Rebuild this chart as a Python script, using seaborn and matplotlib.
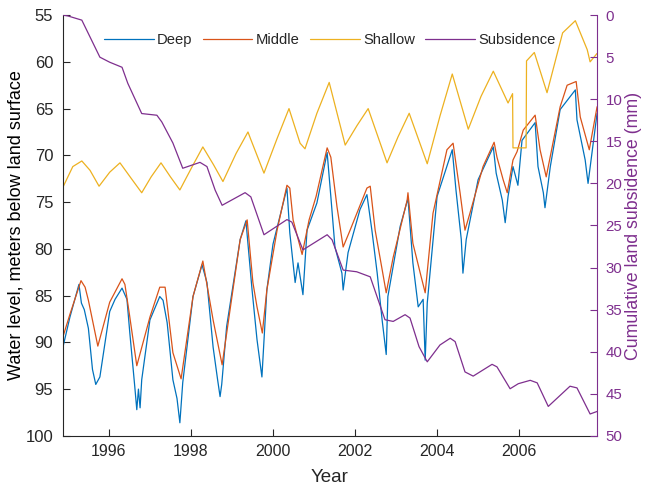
import numpy as np
import pandas as pd
import matplotlib
matplotlib.use("Agg")
import matplotlib.pyplot as plt
import seaborn as sns

# ---------------- data ----------------
deep_year = [1994.88, 1995.05, 1995.27, 1995.33, 1995.40, 1995.50, 1995.60, 1995.68, 1995.78,
             1996.02, 1996.15, 1996.32, 1996.44, 1996.51, 1996.63, 1996.68, 1996.72, 1996.76, 1996.80,
             1997.00, 1997.24, 1997.32, 1997.42, 1997.56, 1997.66, 1997.73, 1997.80,
             1998.05, 1998.27, 1998.39, 1998.54, 1998.65, 1998.71, 1998.75, 1998.87,
             1999.20, 1999.34, 1999.49, 1999.61, 1999.73, 1999.85,
             2000.00, 2000.34, 2000.41, 2000.54, 2000.61, 2000.73, 2000.83,
             2001.07, 2001.32, 2001.41, 2001.51, 2001.68, 2001.71, 2001.83,
             2002.12, 2002.29, 2002.41, 2002.54, 2002.66, 2002.76, 2002.80,
             2003.10, 2003.29, 2003.41, 2003.54, 2003.66, 2003.71, 2003.76,
             2004.00, 2004.37, 2004.46, 2004.59, 2004.63, 2004.71,
             2005.00, 2005.37, 2005.44, 2005.59, 2005.66, 2005.73, 2005.85, 2005.97,
             2006.07, 2006.39, 2006.46, 2006.59, 2006.63, 2006.76,
             2007.00, 2007.37, 2007.41, 2007.61, 2007.68, 2007.90]
deep_level = [90.5, 87.3, 83.8, 85.8, 86.5, 88.5, 92.9, 94.5, 93.7,
              86.7, 85.4, 84.2, 85.4, 89.0, 94.7, 97.2, 95.0, 97.0, 94.0,
              87.6, 85.1, 85.5, 87.9, 94.0, 96.0, 98.6, 94.3,
              85.1, 81.7, 83.6, 90.5, 94.0, 95.8, 94.5, 88.3,
              79.0, 77.0, 84.4, 89.7, 93.7, 84.4,
              79.5, 73.5, 78.3, 83.6, 81.5, 84.9, 78.0,
              75.1, 69.7, 74.4, 79.8, 82.6, 84.4, 80.4,
              75.8, 74.2, 78.0, 82.6, 87.6, 91.3, 85.1,
              77.6, 74.6, 81.5, 86.2, 85.4, 91.9, 85.8,
              74.4, 69.4, 73.7, 79.0, 82.6, 79.0,
              72.6, 69.1, 71.9, 74.8, 77.2, 74.4, 71.2, 73.2,
              68.4, 66.5, 71.2, 74.0, 75.6, 71.2,
              65.1, 63.0, 66.2, 70.5, 73.0, 65.5]

middle_year = [1994.88, 1995.05, 1995.32, 1995.42, 1995.50, 1995.73,
               1996.02, 1996.32, 1996.39, 1996.50, 1996.68,
               1997.00, 1997.24, 1997.37, 1997.56, 1997.76,
               1998.05, 1998.29, 1998.54, 1998.76,
               1999.20, 1999.37, 1999.51, 1999.61, 1999.74, 1999.85,
               2000.10, 2000.34, 2000.41, 2000.49, 2000.71, 2000.88,
               2001.05, 2001.32, 2001.41, 2001.56, 2001.71, 2001.88,
               2002.29, 2002.37, 2002.49, 2002.66, 2002.76, 2002.93,
               2003.27, 2003.29, 2003.41, 2003.59, 2003.71, 2003.90,
               2004.24, 2004.39, 2004.56, 2004.68, 2004.80,
               2005.12, 2005.39, 2005.46, 2005.61, 2005.71, 2005.85, 2005.95,
               2006.10, 2006.39, 2006.51, 2006.66,
               2007.00, 2007.17, 2007.39, 2007.49, 2007.71, 2007.90]
middle_level = [89.4, 87.0, 83.4, 84.1, 85.5, 90.4,
                85.7, 83.2, 83.8, 87.0, 92.5,
                87.3, 84.1, 84.1, 91.1, 93.9,
                85.1, 81.3, 87.6, 92.4,
                79.0, 76.9, 83.6, 86.2, 89.0, 84.4,
                78.0, 73.2, 73.5, 76.9, 80.6, 76.9,
                74.4, 69.2, 70.2, 75.5, 79.8, 78.0,
                73.5, 73.3, 78.0, 82.2, 84.7, 80.9,
                74.8, 74.0, 79.4, 82.6, 84.7, 76.2,
                69.4, 68.7, 74.0, 78.0, 76.2,
                71.2, 68.6, 70.2, 72.6, 74.0, 70.5, 69.6,
                67.3, 65.7, 69.4, 72.3,
                64.8, 62.5, 62.1, 65.9, 69.4, 64.8]

shallow_year = [1994.88, 1995.12, 1995.34, 1995.54, 1995.76, 1996.02, 1996.27, 1996.55, 1996.80,
                1997.03, 1997.27, 1997.50, 1997.73, 1998.03, 1998.29, 1998.55, 1998.78,
                1999.10, 1999.39, 1999.45, 1999.78, 2000.10, 2000.39, 2000.66, 2000.78,
                2001.07, 2001.37, 2001.76, 2002.05, 2002.32, 2002.78, 2003.05, 2003.32,
                2003.76, 2004.07, 2004.37, 2004.76, 2005.07, 2005.37, 2005.73, 2005.84,
                2005.85, 2006.17, 2006.18, 2006.37, 2006.68, 2007.06, 2007.37, 2007.66,
                2007.73, 2007.90]
shallow_level = [73.4, 71.2, 70.6, 71.6, 73.3, 71.8, 70.8, 72.5, 74.0,
                 72.3, 70.8, 72.3, 73.7, 71.2, 69.1, 71.0, 72.8,
                 69.8, 67.5, 68.2, 71.9, 68.2, 65.0, 68.7, 69.3,
                 65.5, 62.2, 68.9, 66.8, 65.0, 70.8, 68.0, 65.5,
                 70.9, 65.8, 61.3, 67.2, 63.7, 61.0, 64.4, 63.4,
                 69.2, 69.2, 59.9, 59.0, 63.3, 56.9, 55.6, 58.7,
                 60.0, 59.1]

subs_year = [1994.88, 1995.00, 1995.34, 1995.61, 1995.78, 1996.02, 1996.32, 1996.46, 1996.80,
             1997.17, 1997.29, 1997.56, 1997.80, 1998.22, 1998.39, 1998.59, 1998.76,
             1999.32, 1999.46, 1999.78, 2000.34, 2000.46, 2000.73, 2001.32, 2001.44,
             2001.71, 2002.04, 2002.37, 2002.73, 2002.93, 2003.22, 2003.34, 2003.56,
             2003.76, 2004.07, 2004.32, 2004.44, 2004.68, 2004.88, 2005.34, 2005.46,
             2005.78, 2005.98, 2006.27, 2006.44, 2006.71, 2007.24, 2007.41, 2007.73,
             2007.90]
subs_mm = [0.0, 0.1, 0.6, 3.3, 5.0, 5.6, 6.2, 8.1, 11.7,
           11.9, 12.7, 15.2, 18.2, 17.5, 18.0, 20.8, 22.6,
           21.1, 21.6, 26.1, 24.3, 24.6, 27.9, 26.1, 26.7,
           30.3, 30.5, 31.1, 36.2, 36.4, 35.6, 36.0, 39.4,
           41.2, 39.2, 38.4, 38.8, 42.4, 42.9, 41.5, 41.8,
           44.4, 43.8, 43.4, 43.7, 46.5, 44.1, 44.3, 47.4,
           47.1]

series_names = ["Deep", "Middle", "Shallow", "Subsidence"]
series_colors = ["#0072BD", "#D95319", "#EDB120", "#7E2F8E"]

# ---------------- plotting ----------------
sns.set_style("white")
plt.rcParams["font.family"] = ["Liberation Sans", "DejaVu Sans"]
plt.rcParams["axes.linewidth"] = 0.8

fig = plt.figure(figsize=(6.49, 4.87), dpi=100)
ax = fig.add_axes([0.097, 0.105, 0.823, 0.864])
ax2 = ax.twinx()

df_deep = pd.DataFrame({"Year": deep_year, "Level": deep_level})
df_mid = pd.DataFrame({"Year": middle_year, "Level": middle_level})
df_sh = pd.DataFrame({"Year": shallow_year, "Level": shallow_level})
df_sub = pd.DataFrame({"Year": subs_year, "mm": subs_mm})

lw = 0.9
sns.lineplot(data=df_deep, x="Year", y="Level", ax=ax, color=series_colors[0], lw=lw,
             sort=False, estimator=None, label=series_names[0], legend=False)
sns.lineplot(data=df_mid, x="Year", y="Level", ax=ax, color=series_colors[1], lw=lw,
             sort=False, estimator=None, label=series_names[1], legend=False)
sns.lineplot(data=df_sh, x="Year", y="Level", ax=ax, color=series_colors[2], lw=lw,
             sort=False, estimator=None, label=series_names[2], legend=False)
sns.lineplot(data=df_sub, x="Year", y="mm", ax=ax2, color=series_colors[3], lw=lw,
             sort=False, estimator=None, label=series_names[3], legend=False)

ax.set_xlim(1994.88, 2007.9)
ax.set_ylim(100, 55)
ax2.set_ylim(50, 0)
ax.set_xticks([1996, 1998, 2000, 2002, 2004, 2006])
ax.set_yticks(np.arange(55, 101, 5))
ax2.set_yticks(np.arange(0, 51, 5))

dark = "#262626"
purple = series_colors[3]
ax.set_xlabel("Year", fontsize=13.5, color=dark, labelpad=7)
ax.set_ylabel("Water level, meters below land surface", fontsize=13, color="black", labelpad=1)
ax2.set_ylabel("Cumulative land subsidence (mm)", fontsize=12.8, color=purple, labelpad=2)

ax.tick_params(axis="x", direction="in", length=5, width=0.8, labelsize=11.5,
               colors=dark, bottom=True, pad=6)
ax.tick_params(axis="y", direction="in", length=5, width=0.8, labelsize=12,
               colors=dark, left=True, pad=7)
ax2.tick_params(axis="y", direction="in", length=5, width=0.8, labelsize=10.8,
                colors=purple, right=True, pad=6)

for a in (ax, ax2):
    a.spines["top"].set_visible(False)
ax.spines["right"].set_visible(False)
ax.spines["left"].set_color(dark)
ax.spines["bottom"].set_color(dark)
ax2.spines["left"].set_visible(False)
ax2.spines["bottom"].set_visible(False)
ax2.spines["right"].set_color(purple)

h1, l1 = ax.get_legend_handles_labels()
h2, l2 = ax2.get_legend_handles_labels()
leg = ax2.legend(h1 + h2, l1 + l2, loc="center", bbox_to_anchor=(0.5, 0.94), ncol=4,
                 frameon=False, fontsize=10.6, handlelength=3.35, handletextpad=0.25,
                 columnspacing=0.7)

fig.savefig("out.png", dpi=100)
